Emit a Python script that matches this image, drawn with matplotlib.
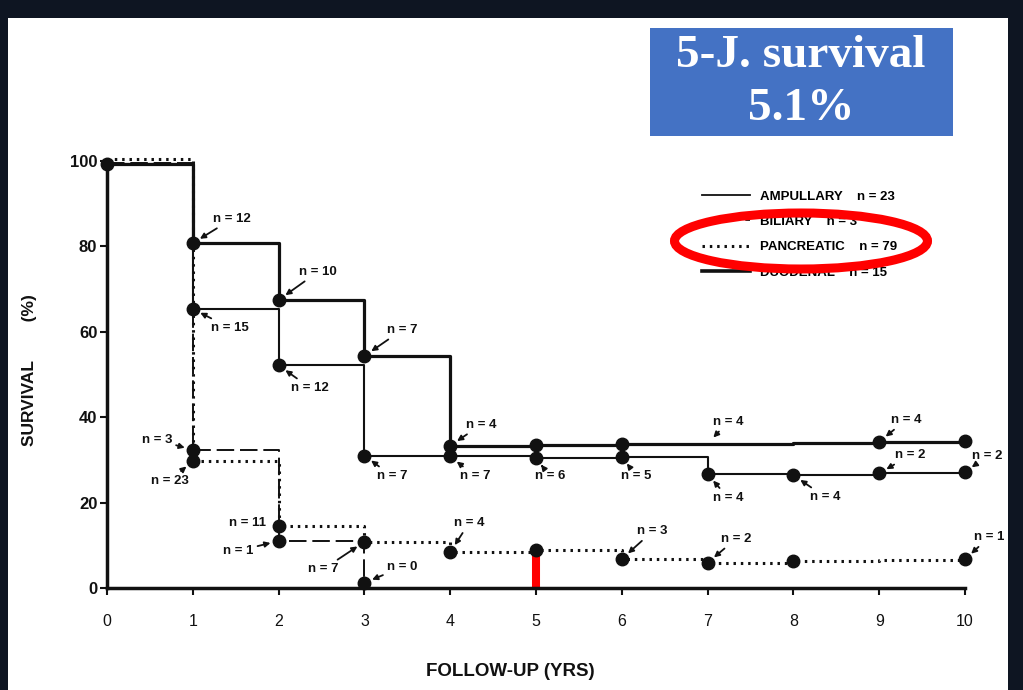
import matplotlib
matplotlib.use('Agg')
import matplotlib.pyplot as plt
from matplotlib.patches import Ellipse, Rectangle
from matplotlib.lines import Line2D

plt.rcParams['font.family'] = ['Liberation Sans', 'DejaVu Sans']

# survival (%) at each follow-up year
years = list(range(11))
ampullary = [99.3, 65.3, 52.1, 31.0, 30.8, 30.4, 30.7, 26.6, 26.4, 26.8, 27.1]
biliary_years = [0, 1, 2, 3]
biliary = [99.5, 32.3, 11.0, 1.2]
pancreatic = [100.4, 29.7, 14.6, 10.8, 8.4, 8.9, 6.8, 5.9, 6.3, 6.5, 6.7]
duodenal = [99.3, 80.7, 67.4, 54.3, 33.3, 33.4, 33.6, 33.8, 34.0, 34.2, 34.5]

# indices that carry a dot
amp_dots = [1, 2, 3, 4, 5, 6, 7, 8, 9, 10]
bil_dots = [1, 2, 3]
pan_dots = [1, 2, 3, 4, 5, 6, 7, 8, 10]
duo_dots = [0, 1, 2, 3, 4, 5, 6, 9, 10]

# patients at risk: (index, label, label x, label y, arrow?)
amp_n = [(1, 'n = 15', 1.43, 60.9, True), (2, 'n = 12', 2.37, 46.8, True),
         (3, 'n = 7', 3.32, 26.2, True), (4, 'n = 7', 4.29, 26.2, True),
         (5, 'n = 6', 5.16, 26.2, True), (6, 'n = 5', 6.17, 26.2, True),
         (7, 'n = 4', 7.24, 21.1, True), (8, 'n = 4', 8.37, 21.3, True),
         (9, 'n = 2', 9.36, 31.1, True), (10, 'n = 2', 10.26, 30.9, True)]
bil_n = [(1, 'n = 3', 0.58, 34.7, True), (2, 'n = 1', 1.53, 8.7, True),
         (3, 'n = 0', 3.44, 4.9, True)]
pan_n = [(1, 'n = 23', 0.73, 25.1, True), (2, 'n = 11', 1.64, 15.2, False),
         (3, 'n = 7', 2.52, 4.4, True), (4, 'n = 4', 4.22, 15.2, True),
         (6, 'n = 3', 6.36, 13.3, True), (7, 'n = 2', 7.33, 11.5, True),
         (10, 'n = 1', 10.28, 11.9, True)]
duo_n = [(1, 'n = 12', 1.46, 86.4, True), (2, 'n = 10', 2.46, 74.0, True),
         (3, 'n = 7', 3.44, 60.4, True), (4, 'n = 4', 4.36, 38.2, True),
         (7, 'n = 4', 7.24, 38.9, True), (9, 'n = 4', 9.31, 39.3, True)]

legend_labels = ['AMPULLARY    n = 23', 'BILIARY    n = 3',
                 'PANCREATIC    n = 79', 'DUODENAL    n = 15']

W, H = 1023, 690
fig = plt.figure(figsize=(W / 100, H / 100), dpi=100, facecolor='#0e1522')
# white slide area
fig.add_artist(Rectangle((8 / W, 0), 1000 / W, 1 - 18 / H, transform=fig.transFigure,
                         facecolor='white', edgecolor='none', zorder=0))

ax = fig.add_axes([107 / W, 102 / H, 858 / W, 427.3 / H])
ax.set_facecolor('none')

k = '#111111'
ax.plot(years, ampullary, drawstyle='steps-post', color=k, lw=1.5,
        marker='o', ms=9, markevery=amp_dots, clip_on=False)
ax.plot(biliary_years, biliary, drawstyle='steps-post', color=k, lw=1.4,
        ls=(0, (9, 3)), marker='o', ms=9, markevery=bil_dots, clip_on=False)
ax.plot(years, pancreatic, drawstyle='steps-post', color=k, lw=2.2,
        ls=(0, (0.8, 1.6)), marker='o', ms=9, markevery=pan_dots, clip_on=False)
ax.plot(years, duodenal, drawstyle='steps-post', color=k, lw=2.3,
        marker='o', ms=9, markevery=duo_dots, clip_on=False)

# red 5-year marker on the pancreatic curve
ax.plot([5, 5], [0, pancreatic[5]], color='#ff0000', lw=5.8,
        solid_capstyle='butt', zorder=1, clip_on=False)


def label_points(xs, ys, items):
    for i, txt, tx, ty, arrow in items:
        props = None
        if arrow:
            props = dict(arrowstyle='-|>', color=k, lw=1.3, mutation_scale=8,
                         shrinkA=1, shrinkB=6)
        ax.annotate(txt, xy=(xs[i], ys[i]), xytext=(tx, ty), ha='center', va='center',
                    fontsize=9.5, fontweight='bold', color=k, arrowprops=props,
                    annotation_clip=False)


label_points(years, ampullary, amp_n)
label_points(biliary_years, biliary, bil_n)
label_points(years, pancreatic, pan_n)
label_points(years, duodenal, duo_n)

ax.set_xlim(0, 10)
ax.set_ylim(0, 100)
ax.set_xticks(years)
ax.set_yticks([0, 20, 40, 60, 80, 100])
for s in ['top', 'right']:
    ax.spines[s].set_visible(False)
for s in ['left', 'bottom']:
    ax.spines[s].set_linewidth(2.5)
    ax.spines[s].set_color(k)
ax.tick_params(axis='x', length=5, width=1.5, pad=14, labelsize=11.5, colors=k)
ax.tick_params(axis='y', length=5, width=1.5, pad=2, labelsize=12, colors=k)
for t in ax.get_yticklabels():
    t.set_fontweight('bold')

fig.text(30 / W, 1 - 370 / H, 'SURVIVAL        (%)', rotation=90, ha='center', va='center',
         fontsize=12.5, fontweight='bold', color=k)
fig.text(510 / W, 1 - 671 / H, 'FOLLOW-UP (YRS)', ha='center', va='center',
         fontsize=13.5, fontweight='bold', color=k)

handles = [Line2D([], [], color=k, lw=1.3),
           Line2D([], [], color=k, lw=1.3, ls=(0, (9, 3))),
           Line2D([], [], color=k, lw=2.2, ls=(0, (0.8, 1.6))),
           Line2D([], [], color=k, lw=2.6)]
ax.legend(handles, legend_labels, loc='upper left', bbox_to_anchor=(697 / W, 1 - 185 / H),
          bbox_transform=fig.transFigure, frameon=False, handlelength=3.6,
          handletextpad=0.8, labelspacing=1.0, prop=dict(weight='bold', size=9.5),
          borderaxespad=0)

fig.add_artist(Ellipse((801 / W, 1 - 241 / H), 253 / W, 56 / H, transform=fig.transFigure,
                       facecolor='none', edgecolor='#ff0000', lw=6.5, zorder=5))

# blue title box
fig.add_artist(Rectangle((650 / W, 1 - 136 / H), 303 / W, 108 / H, transform=fig.transFigure,
                         facecolor='#4472c4', edgecolor='none', zorder=4))
fig.text(801 / W, 1 - 56 / H, '5-J. survival', ha='center', va='center', color='white',
         fontsize=34, fontweight='bold', family='Liberation Serif', zorder=6)
fig.text(801 / W, 1 - 109 / H, '5.1%', ha='center', va='center', color='white',
         fontsize=34, fontweight='bold', family='Liberation Serif', zorder=6)

fig.savefig('out.png', dpi=100, facecolor=fig.get_facecolor())
